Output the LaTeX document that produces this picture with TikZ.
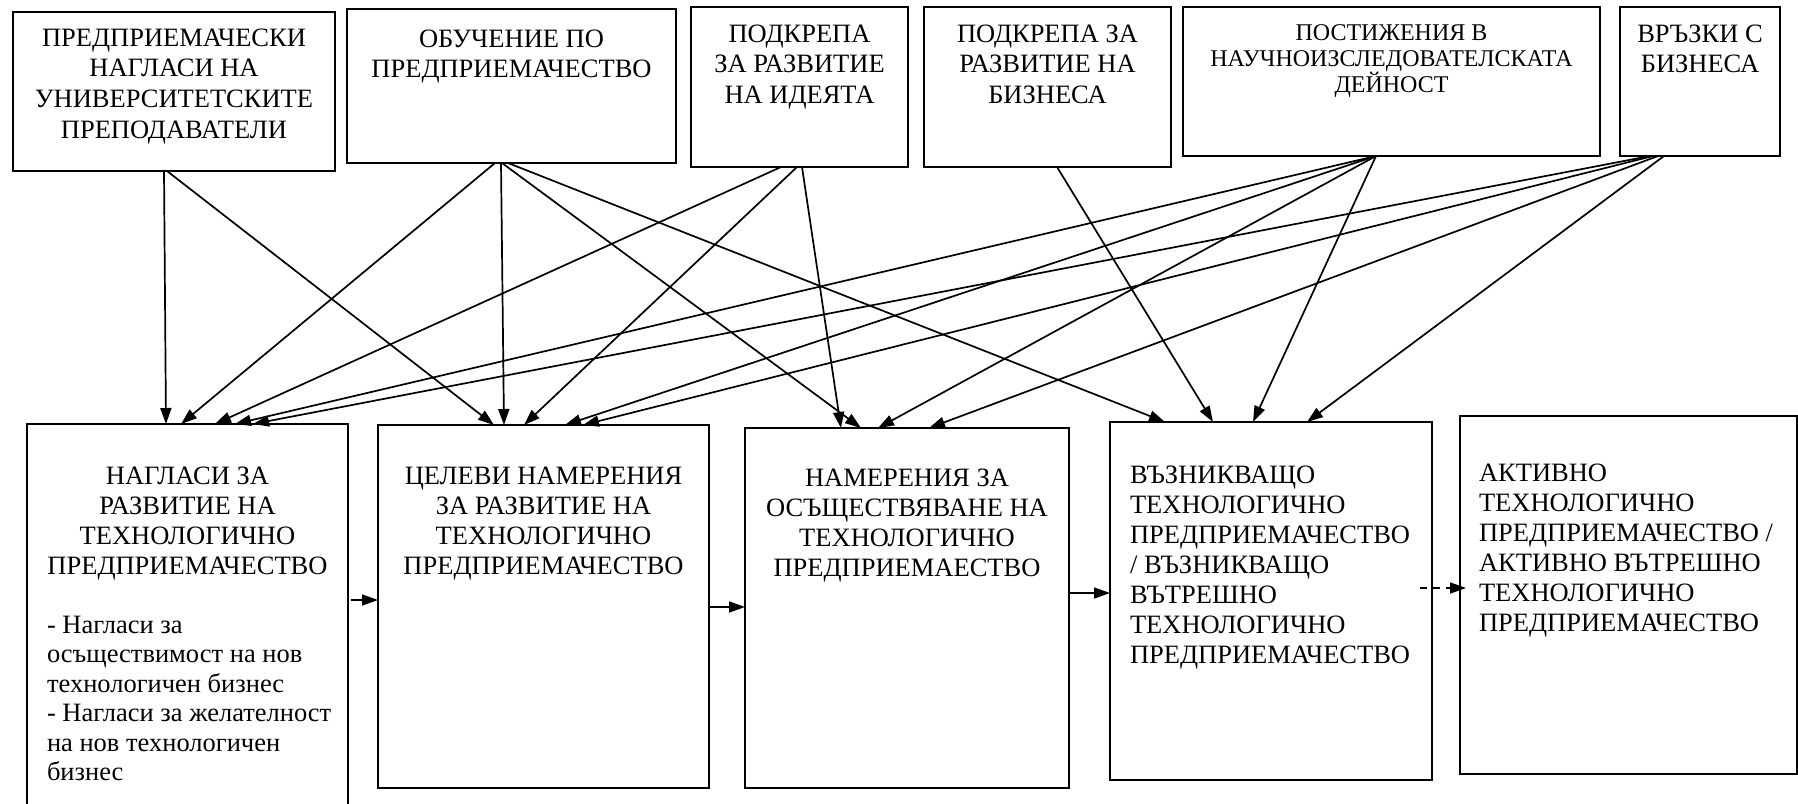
\documentclass[tikz,border=0pt]{standalone}
\usepackage{fontspec}
\setmainfont{Liberation Serif}
\usetikzlibrary{arrows.meta}
\newcommand\sztop{\fontsize{26.5pt}{30.8pt}\selectfont}
\newcommand\szmain{\fontsize{26.5pt}{30pt}\selectfont}
\newcommand\szlist{\fontsize{26.5pt}{29.5pt}\selectfont}
\newcommand\szsmall{\fontsize{24pt}{26.4pt}\selectfont}
\newcommand\boxtextt[1]{\parbox[t]{440pt}{\centering\sztop #1}}
\newcommand\boxtextc[1]{\parbox[t]{440pt}{\centering\szmain #1}}
\newcommand\boxtextcs[1]{\parbox[t]{440pt}{\centering\szsmall #1}}
\newcommand\boxtextl[1]{\parbox[t]{400pt}{\raggedright\szmain #1}}
\newcommand\boxtextll[1]{\parbox[t]{400pt}{\raggedright\szlist #1}}
\begin{document}
\begin{tikzpicture}[x=1pt,y=-1pt,
  box/.style={draw, line width=2pt, inner sep=0pt, outer sep=0pt, anchor=north west},
  arr/.style={line width=1.7pt, -{Triangle[length=16pt,width=11pt]}},
  ctxt/.style={inner sep=0pt, outer sep=0pt, anchor=base},
  ltxt/.style={inner sep=0pt, outer sep=0pt, anchor=base west}]
\useasboundingbox (0,0) rectangle (1798,803);
\clip (0,0) rectangle (1798,803);
\fill[white] (0,0) rectangle (1798,803);
% top boxes
\node[box, minimum width=322pt, minimum height=159pt] (a1) at (13,12) {};
\node[box, minimum width=329pt, minimum height=154pt] (a2) at (347,9) {};
\node[box, minimum width=217pt, minimum height=160pt] (a3) at (691,7) {};
\node[box, minimum width=247pt, minimum height=160pt] (a4) at (924,7) {};
\node[box, minimum width=417pt, minimum height=149pt] (a5) at (1183,7) {};
\node[box, minimum width=160pt, minimum height=149pt] (a6) at (1620,7) {};
% bottom boxes
\node[box, minimum width=321pt, minimum height=411pt] (b1) at (27,424) {};
\node[box, minimum width=331pt, minimum height=363pt] (b2) at (378,425) {};
\node[box, minimum width=324pt, minimum height=360pt] (b3) at (745,428) {};
\node[box, minimum width=322pt, minimum height=358pt] (b4) at (1110,422) {};
\node[box, minimum width=337pt, minimum height=358pt] (b5) at (1460,416) {};
% texts
\node[ctxt] (a1t) at (a1.north |- 0,46) {\boxtextt{ПРЕДПРИЕМАЧЕСКИ\\НАГЛАСИ НА\\УНИВЕРСИТЕТСКИТЕ\\ПРЕПОДАВАТЕЛИ}};
\node[ctxt] (a2t) at (a2.north |- 0,47) {\boxtextt{ОБУЧЕНИЕ ПО\\ПРЕДПРИЕМАЧЕСТВО}};
\node[ctxt] (a3t) at (a3.north |- 0,42) {\boxtextt{ПОДКРЕПА\\ЗА РАЗВИТИЕ\\НА ИДЕЯТА}};
\node[ctxt] (a4t) at (a4.north |- 0,42) {\boxtextt{ПОДКРЕПА ЗА\\РАЗВИТИЕ НА\\БИЗНЕСА}};
\node[ctxt] (a5t) at (a5.north |- 0,40) {\boxtextcs{ПОСТИЖЕНИЯ В\\НАУЧНОИЗСЛЕДОВАТЕЛСКАТА\\ДЕЙНОСТ}};
\node[ctxt] (a6t) at (a6.north |- 0,42) {\boxtextt{ВРЪЗКИ С\\БИЗНЕСА}};
\node[ctxt] (b1t) at (b1.north |- 0,484) {\boxtextc{НАГЛАСИ ЗА\\РАЗВИТИЕ НА\\ТЕХНОЛОГИЧНО\\ПРЕДПРИЕМАЧЕСТВО}};
\node[ltxt] (b1l) at (47,633) {\boxtextll{- Нагласи за\\осъществимост на нов\\технологичен бизнес\\- Нагласи за желателност\\на нов технологичен\\бизнес}};
\node[ctxt] (b2t) at (b2.north |- 0,484) {\boxtextc{ЦЕЛЕВИ НАМЕРЕНИЯ\\ЗА РАЗВИТИЕ НА\\ТЕХНОЛОГИЧНО\\ПРЕДПРИЕМАЧЕСТВО}};
\node[ctxt] (b3t) at (b3.north |- 0,486) {\boxtextc{НАМЕРЕНИЯ ЗА\\ОСЪЩЕСТВЯВАНЕ НА\\ТЕХНОЛОГИЧНО\\ПРЕДПРИЕМАЕСТВО}};
\node[ltxt] (b4t) at (1130,483) {\boxtextl{ВЪЗНИКВАЩО\\ТЕХНОЛОГИЧНО\\ПРЕДПРИЕМАЧЕСТВО\\/ ВЪЗНИКВАЩО\\ВЪТРЕШНО\\ТЕХНОЛОГИЧНО\\ПРЕДПРИЕМАЧЕСТВО}};
\node[ltxt] (b5t) at (1479,481) {\boxtextl{АКТИВНО\\ТЕХНОЛОГИЧНО\\ПРЕДПРИЕМАЧЕСТВО /\\АКТИВНО ВЪТРЕШНО\\ТЕХНОЛОГИЧНО\\ПРЕДПРИЕМАЧЕСТВО}};
% connectors top -> bottom
\draw[arr] (164,0 |- a1.south) -- (166,0 |- b1.north);
\draw[arr] (167,0 |- a1.south) -- (494,0 |- b2.north);
\draw[arr] (495,0 |- a2.south) -- (181,0 |- b1.north);
\draw[arr] (501,0 |- a2.south) -- (504,0 |- b2.north);
\draw[arr] (502,0 |- a2.south) -- (861,0 |- b3.north);
\draw[arr] (508,0 |- a2.south) -- (1165,0 |- b4.north);
\draw[arr] (781,0 |- a3.south) -- (215,0 |- b1.north);
\draw[arr] (797,0 |- a3.south) -- (524,0 |- b2.north);
\draw[arr] (802,0 |- a3.south) -- (841,0 |- b3.north);
\draw[arr] (1057,0 |- a4.south) -- (1213,0 |- b4.north);
\draw[arr] (1376,0 |- a5.south) -- (235,0 |- b1.north);
\draw[arr] (1376,0 |- a5.south) -- (565,0 |- b2.north);
\draw[arr] (1376,0 |- a5.south) -- (878,0 |- b3.north);
\draw[arr] (1376,0 |- a5.south) -- (1253,0 |- b4.north);
\draw[arr] (1650,0 |- a6.south) -- (253,0 |- b1.north);
\draw[arr] (1653,0 |- a6.south) -- (583,0 |- b2.north);
\draw[arr] (1658,0 |- a6.south) -- (929,0 |- b3.north);
\draw[arr] (1664,0 |- a6.south) -- (1307,0 |- b4.north);
% horizontal connectors
\draw[arr] ([xshift=3pt]b1.east |- 0,600) -- (b2.west |- 0,600);
\draw[arr] (b2.east |- 0,607) -- (b3.west |- 0,607);
\draw[arr] (b3.east |- 0,593) -- (b4.west |- 0,593);
\draw[arr, dash pattern=on 7pt off 6pt] ([xshift=-12pt]b4.east |- 0,588) -- ([xshift=6pt]b5.west |- 0,588);
\end{tikzpicture}
\end{document}
